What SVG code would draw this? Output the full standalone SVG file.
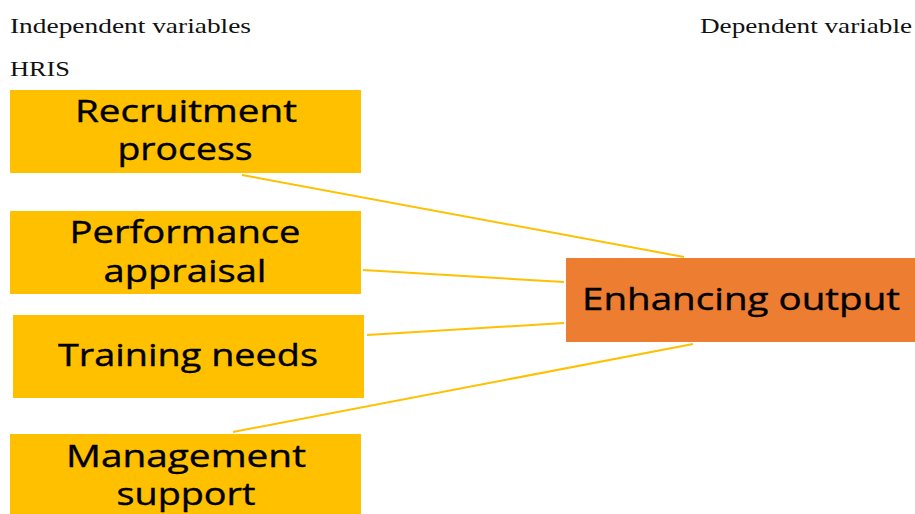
<svg xmlns="http://www.w3.org/2000/svg" width="915" height="514" viewBox="0 0 915 514">
<style>
.hdr{font-family:"Liberation Serif","DejaVu Serif",serif;font-size:22px;fill:#111}
.box{fill:#FFC000}
.out{fill:#ED7D31}
.lbl{font-family:"Open Sans","Noto Sans",sans-serif;font-size:31px;fill:#000;stroke:#000;stroke-width:0.4;text-anchor:middle}
.con{stroke:#FFC000;stroke-width:2;fill:none}
</style>
<rect width="915" height="514" fill="#fff"/>
<text class="hdr" x="10" y="33" textLength="241" lengthAdjust="spacingAndGlyphs">Independent variables</text>
<text class="hdr" x="700" y="33" textLength="212" lengthAdjust="spacingAndGlyphs">Dependent variable</text>
<text class="hdr" x="10" y="76" textLength="60" lengthAdjust="spacingAndGlyphs">HRIS</text>
<g id="connectors">
<line class="con" x1="242" y1="175" x2="684" y2="257"/>
<line class="con" x1="363" y1="270" x2="564" y2="282"/>
<line class="con" x1="367" y1="335" x2="564" y2="323"/>
<line class="con" x1="233" y1="432" x2="693" y2="344"/>
</g>
<g id="recruitment">
<rect class="box" x="10" y="90" width="351" height="83"/>
<text class="lbl" x="186" y="122" textLength="222" lengthAdjust="spacingAndGlyphs">Recruitment</text>
<text class="lbl" x="185" y="160" textLength="135" lengthAdjust="spacingAndGlyphs">process</text>
</g>
<g id="performance">
<rect class="box" x="10" y="211" width="351" height="83"/>
<text class="lbl" x="185" y="243" textLength="231" lengthAdjust="spacingAndGlyphs">Performance</text>
<text class="lbl" x="185" y="282" textLength="163" lengthAdjust="spacingAndGlyphs">appraisal</text>
</g>
<g id="training">
<rect class="box" x="13" y="315" width="351" height="83"/>
<text class="lbl" x="188" y="366" textLength="260" lengthAdjust="spacingAndGlyphs">Training needs</text>
</g>
<g id="management">
<rect class="box" x="10" y="434" width="351" height="80"/>
<text class="lbl" x="186" y="467" textLength="240" lengthAdjust="spacingAndGlyphs">Management</text>
<text class="lbl" x="186" y="505" textLength="139" lengthAdjust="spacingAndGlyphs">support</text>
</g>
<g id="enhancing">
<rect class="out" x="566" y="258" width="349" height="84"/>
<text class="lbl" x="741" y="310" textLength="318" lengthAdjust="spacingAndGlyphs">Enhancing output</text>
</g>
</svg>
